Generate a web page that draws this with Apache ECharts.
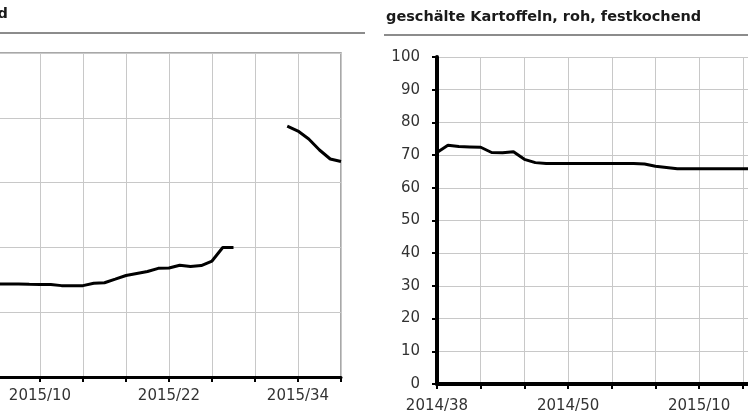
<!DOCTYPE html>
<html><head><meta charset="utf-8">
<script src="https://cdn.jsdelivr.net/npm/echarts@6/dist/echarts.min.js"></script>
<style>html,body{margin:0;padding:0;background:#fff}#c{width:748px;height:420px}</style>
</head><body><div id="c"></div>
<script>
const weeks = [
  '2014/38','2014/39','2014/40','2014/41','2014/42','2014/43','2014/44','2014/45','2014/46','2014/47',
  '2014/48','2014/49','2014/50','2014/51','2014/52',
  '2015/01','2015/02','2015/03','2015/04','2015/05','2015/06','2015/07','2015/08','2015/09','2015/10',
  '2015/11','2015/12','2015/13','2015/14','2015/15','2015/16','2015/17','2015/18','2015/19','2015/20',
  '2015/21','2015/22','2015/23','2015/24','2015/25','2015/26','2015/27','2015/28','2015/29','2015/30',
  '2015/31','2015/32','2015/33','2015/34','2015/35','2015/36','2015/37','2015/38'
];
const leftTitle = 'Kartoffeln, festkochend';
const rightTitle = 'geschälte Kartoffeln, roh, festkochend';
// left panel (only the right part is visible)
const leftValues = [
  null,null,null,null,null,null,null,null,null,null,
  null,null,null,null,null,null,null,null,null,null,
  14.35,14.35,14.35,14.3,14.27,14.27,14.1,14.1,14.1,14.46,
  14.55,15.1,15.66,15.97,16.28,16.77,16.82,17.25,17.05,17.2,
  17.9,19.98,20.0,null,null,null,null,
  38.73,37.96,36.73,35.03,33.64,33.26
];
// right panel (only the left part is visible)
const rightValues = [
  70.8,73.0,72.6,72.5,72.4,70.8,70.7,71.0,68.7,67.7,
  67.4,67.4,67.4,67.4,67.4,67.4,67.4,67.4,67.4,67.3,
  66.6,66.2,65.8,65.8,65.8,65.8,65.8,65.8,65.8,65.8
];
const leftY = {min: 0, max: 50, step: 10};
const rightY = {min: 0, max: 100, step: 10};

const font = 'DejaVu Sans';
const gridColor = '#c8c8c8';
function xAxis(gi, lineW, margin) {
  return {
    type: 'category', gridIndex: gi, data: weeks, boundaryGap: false,
    axisLine: {show: true, lineStyle: {color: '#000', width: lineW}},
    axisTick: {show: true, interval: 3, length: 5, lineStyle: {color: '#000', width: 2}},
    axisLabel: {interval: function (i) { return i % 12 === 0; }, margin: margin,
                fontFamily: font, fontSize: 15, color: '#333', hideOverlap: false},
    splitLine: {show: true, interval: 3, lineStyle: {color: gridColor, width: 1}}
  };
}
function yAxis(gi, r, lineW) {
  return {
    type: 'value', gridIndex: gi, min: r.min, max: r.max, interval: r.step,
    axisLine: {show: true, lineStyle: {color: '#000', width: lineW}},
    axisTick: {show: true, length: 5, lineStyle: {color: '#000', width: 2}},
    axisLabel: {margin: 17, fontFamily: font, fontSize: 15, color: '#333'},
    splitLine: {show: true, lineStyle: {color: gridColor, width: 1}}
  };
}
const chart = echarts.init(document.getElementById('c'));
chart.setOption({
  backgroundColor: '#fff',
  animation: false,
  title: [
    {text: leftTitle, right: 740, top: 7, padding: 0,
     textStyle: {fontFamily: font, fontWeight: 'bold', fontSize: 14.5, color: '#1a1a1a'}},
    {text: rightTitle, left: 386, top: 10, padding: 0,
     textStyle: {fontFamily: font, fontWeight: 'bold', fontSize: 14.5, color: '#1a1a1a'}}
  ],
  graphic: [
    {type: 'line', shape: {x1: 0, y1: 33, x2: 365, y2: 33}, style: {stroke: '#8c8c8c', lineWidth: 2}},
    {type: 'line', shape: {x1: 384, y1: 35, x2: 748, y2: 35}, style: {stroke: '#8c8c8c', lineWidth: 2}}
  ],
  grid: [
    {left: -218, top: 53, width: 559, height: 324, containLabel: false, outerBoundsMode: 'none',
     show: true, borderColor: '#8c8c8c', borderWidth: 1.5, backgroundColor: 'transparent'},
    {left: 437, top: 57, width: 568, height: 327, containLabel: false, outerBoundsMode: 'none'}
  ],
  xAxis: [xAxis(0, 3, 12), xAxis(1, 4, 15)],
  yAxis: [yAxis(0, leftY, 3), yAxis(1, rightY, 4)],
  series: [
    {type: 'line', xAxisIndex: 0, yAxisIndex: 0, data: leftValues, symbol: 'none', connectNulls: false,
     lineStyle: {color: '#000', width: 3}},
    {type: 'line', xAxisIndex: 1, yAxisIndex: 1, data: rightValues, symbol: 'none',
     lineStyle: {color: '#000', width: 3}}
  ]
});
</script></body></html>
